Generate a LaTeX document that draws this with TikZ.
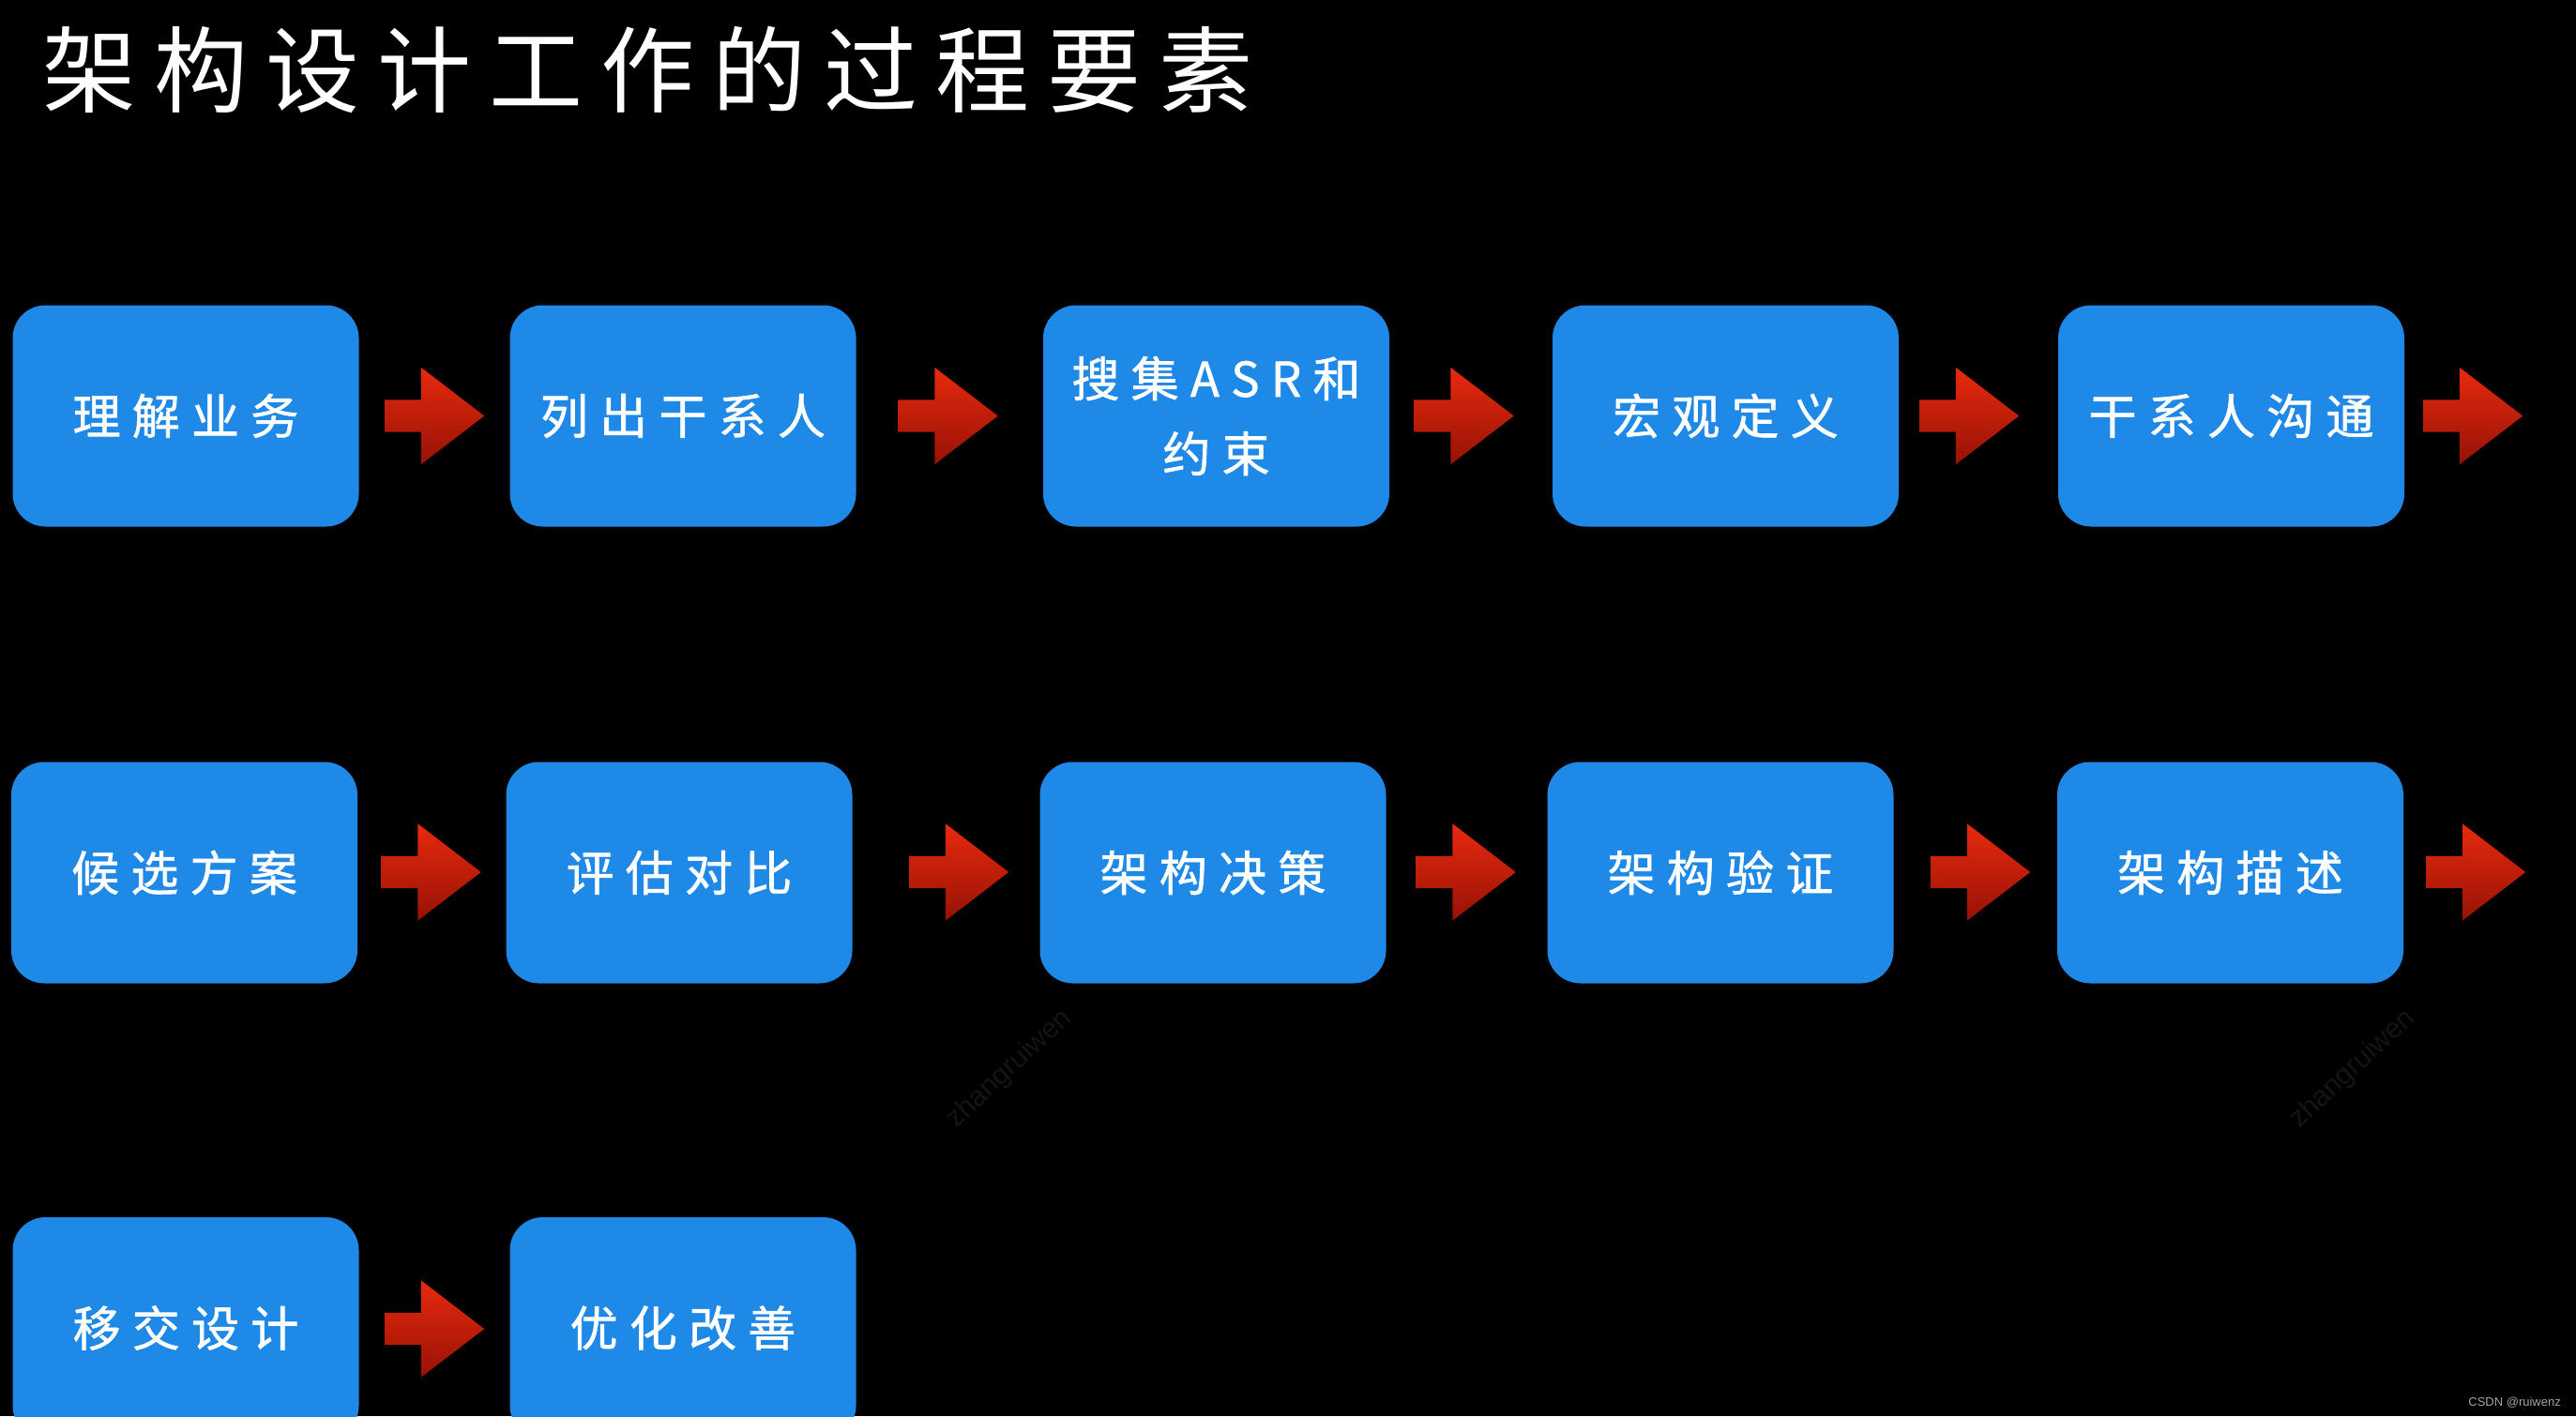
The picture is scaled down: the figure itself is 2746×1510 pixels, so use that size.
\documentclass[tikz,border=0pt]{standalone}
\usepackage{fontspec}
\usetikzlibrary{shapes.arrows}
\newfontfamily\titlefont{Noto Sans CJK SC}[LetterSpace=19]
\newfontfamily\boxfont{Noto Sans CJK SC}[LetterSpace=24,FakeBold=1.2]
\newfontfamily\markfont{Liberation Sans}
\definecolor{boxblue}{RGB}{30,137,230}
\definecolor{arrtop}{RGB}{232,42,14}
\definecolor{arrbot}{RGB}{150,18,5}
\definecolor{wmark}{RGB}{24,19,19}
\definecolor{csdn}{RGB}{165,165,165}
\begin{document}
\begin{tikzpicture}[x=1pt,y=-1pt,
  stepbox/.style={rectangle, rounded corners=35pt, fill=boxblue, draw=none,
    minimum width=369pt, minimum height=236pt, inner sep=0pt, align=center,
    text=white, font=\boxfont\fontsize{51pt}{80pt}\selectfont},
  blockarrow/.style={single arrow, draw=none, top color=arrtop, bottom color=arrbot,
    minimum height=106pt, minimum width=0pt, inner xsep=0pt, inner ysep=17pt,
    single arrow head extend=34.5pt, single arrow tip angle=75, anchor=west}]
\useasboundingbox (0,0) rectangle (2746,1510);
\fill[black] (0,0) rectangle (2746,1510);
\clip (0,0) rectangle (2746,1510);

\node[anchor=base west, inner sep=0pt, text=white,
  font=\titlefont\fontsize{100pt}{100pt}\selectfont] (title) at (45,112) {架构设计工作的过程要素};

% row 1
\node[stepbox] (b11) at (198,443.5) {理解业务};
\node[stepbox] (b12) at (728,443.5) {列出干系人};
\node[stepbox] (b13) at (1296.5,443.5) {搜集ASR和\\约束};
\node[stepbox] (b14) at (1839.5,443.5) {宏观定义};
\node[stepbox] (b15) at (2378.5,443.5) {干系人沟通};
% row 2
\node[stepbox] (b21) at (196.5,930.5) {候选方案};
\node[stepbox] (b22) at (724,930.5) {评估对比};
\node[stepbox] (b23) at (1293,930.5) {架构决策};
\node[stepbox] (b24) at (1834,930.5) {架构验证};
\node[stepbox] (b25) at (2377.5,930.5) {架构描述};
% row 3
\node[stepbox] (b31) at (198,1416) {移交设计};
\node[stepbox] (b32) at (728,1416) {优化改善};

% arrows
\node[blockarrow] (a11) at (410,443.5) {};
\node[blockarrow] (a12) at (957.5,443.5) {};
\node[blockarrow] (a13) at (1507.5,443.5) {};
\node[blockarrow] (a14) at (2046,443.5) {};
\node[blockarrow] (a15) at (2583,443.5) {};
\node[blockarrow] (a21) at (406.5,930) {};
\node[blockarrow] (a22) at (969,930) {};
\node[blockarrow] (a23) at (1509.5,930) {};
\node[blockarrow] (a24) at (2058,930) {};
\node[blockarrow] (a25) at (2586,930) {};
\node[blockarrow] (a31) at (410,1417) {};

% watermarks
\node[rotate=43, text=wmark, font=\markfont\fontsize{30pt}{30pt}\selectfont, inner sep=0pt] (wm1) at (1076,1140) {zhangruiwen};
\node[rotate=43, text=wmark, font=\markfont\fontsize{30pt}{30pt}\selectfont, inner sep=0pt] (wm2) at (2508,1140) {zhangruiwen};

\node[anchor=base east, inner sep=0pt, text=csdn, font=\markfont\fontsize{13pt}{13pt}\selectfont] (csdn) at (2730,1499) {CSDN @ruiwenz};
\end{tikzpicture}
\end{document}
